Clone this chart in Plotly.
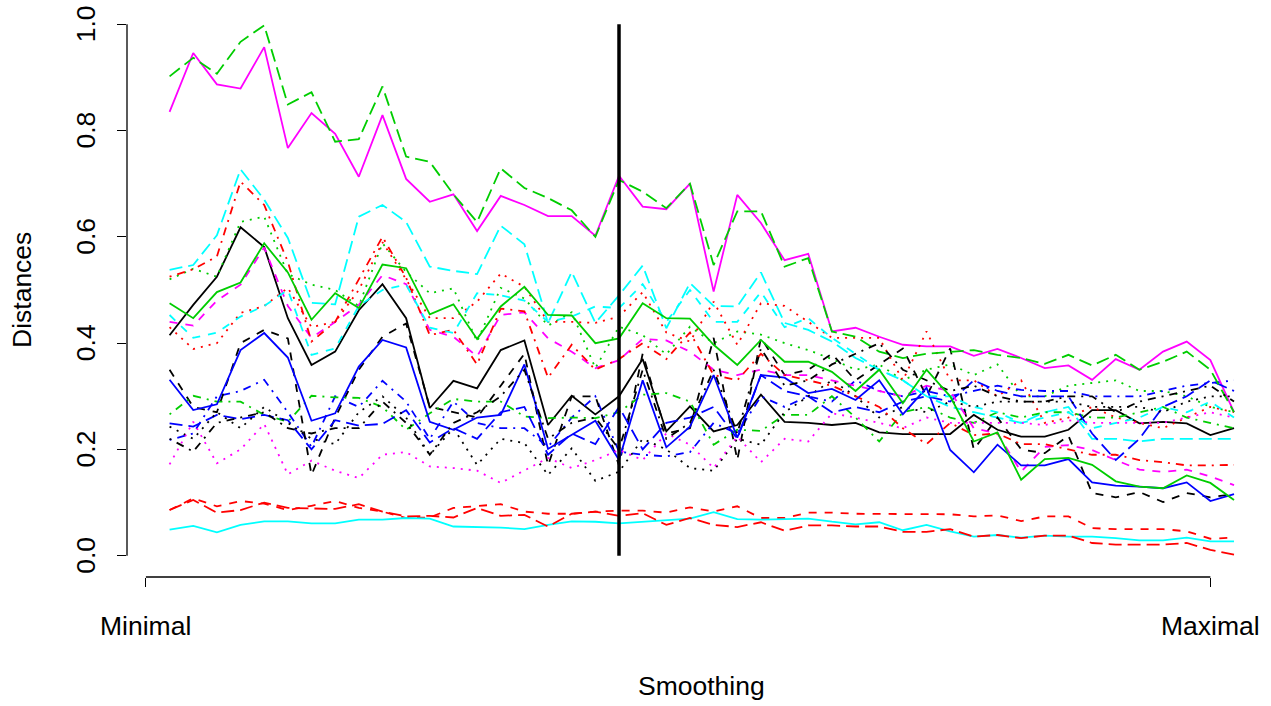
import plotly.graph_objects as go

# ---------------- data ----------------
X_POS = list(range(1, 47))          # 46 smoothing levels
SPLIT_X = 20                        # vertical marker position
TICK_POS = [0, 45]
TICK_LABELS = ["Minimal", "Maximal"]
Y_TICKS = [0.0, 0.2, 0.4, 0.6, 0.8, 1.0]
Y_TICK_LABELS = ["0.0", "0.2", "0.4", "0.6", "0.8", "1.0"]

s01_black_solid = [0.415,0.472,0.525,0.618,0.581,0.447,0.359,0.384,0.462,0.511,0.447,0.278,0.329,0.315,0.387,0.405,0.246,0.301,0.266,0.30,0.37,0.234,0.281,0.234,0.246,0.303,0.252,0.25,0.246,0.25,0.232,0.229,0.229,0.229,0.265,0.237,0.224,0.224,0.237,0.274,0.274,0.249,0.252,0.249,0.227,0.240]
s02_red_dashed = [0.086,0.108,0.093,0.103,0.098,0.086,0.094,0.103,0.090,0.083,0.071,0.072,0.090,0.093,0.097,0.083,0.079,0.079,0.083,0.085,0.085,0.081,0.091,0.083,0.093,0.071,0.071,0.081,0.081,0.079,0.079,0.078,0.078,0.078,0.074,0.076,0.065,0.074,0.074,0.052,0.050,0.050,0.050,0.046,0.032,0.034]
s03_green_dotted = [0.52,0.54,0.525,0.628,0.638,0.53,0.51,0.50,0.47,0.588,0.534,0.494,0.503,0.403,0.504,0.484,0.433,0.458,0.353,0.431,0.415,0.379,0.431,0.40,0.422,0.416,0.40,0.387,0.37,0.35,0.36,0.33,0.35,0.36,0.34,0.36,0.30,0.30,0.32,0.325,0.33,0.31,0.31,0.30,0.28,0.27]
s04_blue_dotdash = [0.218,0.23,0.30,0.31,0.331,0.27,0.205,0.30,0.28,0.329,0.29,0.22,0.29,0.25,0.24,0.24,0.205,0.26,0.30,0.196,0.19,0.187,0.195,0.25,0.23,0.30,0.28,0.30,0.29,0.33,0.31,0.30,0.31,0.30,0.31,0.32,0.312,0.31,0.31,0.30,0.30,0.30,0.31,0.32,0.325,0.33]
s05_cyan_longdash = [0.538,0.547,0.603,0.727,0.67,0.598,0.476,0.473,0.638,0.660,0.628,0.544,0.536,0.530,0.621,0.586,0.438,0.534,0.438,0.49,0.546,0.428,0.513,0.47,0.469,0.533,0.438,0.425,0.403,0.372,0.35,0.33,0.30,0.28,0.27,0.26,0.25,0.27,0.28,0.22,0.22,0.215,0.22,0.22,0.22,0.22]
s06_magenta_solid = [0.835,0.946,0.887,0.879,0.957,0.767,0.833,0.794,0.713,0.829,0.709,0.666,0.68,0.611,0.677,0.66,0.639,0.639,0.602,0.715,0.657,0.652,0.70,0.497,0.679,0.626,0.556,0.568,0.422,0.429,0.412,0.397,0.394,0.394,0.376,0.389,0.372,0.353,0.358,0.331,0.370,0.350,0.384,0.403,0.368,0.27]
s07_black_dashed = [0.35,0.28,0.27,0.40,0.425,0.409,0.152,0.26,0.35,0.412,0.437,0.28,0.27,0.26,0.32,0.38,0.17,0.30,0.30,0.17,0.38,0.23,0.24,0.41,0.18,0.41,0.34,0.35,0.38,0.33,0.36,0.39,0.30,0.39,0.20,0.26,0.20,0.193,0.226,0.118,0.110,0.12,0.101,0.118,0.11,0.116]
s08_red_dotted = [0.43,0.389,0.40,0.457,0.47,0.504,0.43,0.44,0.50,0.59,0.52,0.447,0.447,0.478,0.531,0.506,0.44,0.44,0.438,0.45,0.496,0.42,0.403,0.478,0.397,0.475,0.47,0.44,0.41,0.41,0.41,0.33,0.422,0.33,0.33,0.30,0.33,0.25,0.26,0.28,0.26,0.25,0.24,0.26,0.28,0.27]
s09_green_dotdash = [0.266,0.301,0.29,0.29,0.265,0.252,0.301,0.298,0.297,0.28,0.237,0.268,0.295,0.29,0.29,0.262,0.259,0.26,0.259,0.27,0.303,0.306,0.29,0.209,0.237,0.235,0.265,0.265,0.30,0.26,0.215,0.27,0.28,0.26,0.25,0.27,0.26,0.27,0.27,0.26,0.26,0.27,0.28,0.26,0.25,0.24]
s10_blue_longdash = [0.249,0.243,0.265,0.257,0.265,0.255,0.20,0.255,0.245,0.248,0.274,0.213,0.24,0.22,0.27,0.28,0.19,0.23,0.21,0.28,0.20,0.25,0.26,0.28,0.22,0.34,0.31,0.30,0.27,0.28,0.27,0.29,0.30,0.29,0.33,0.31,0.30,0.30,0.30,0.23,0.18,0.22,0.28,0.30,0.33,0.31]
s11_cyan_solid = [0.049,0.056,0.044,0.058,0.0645,0.0645,0.061,0.061,0.068,0.068,0.071,0.070,0.055,0.054,0.053,0.050,0.058,0.0645,0.064,0.061,0.064,0.068,0.070,0.082,0.069,0.068,0.069,0.070,0.064,0.059,0.063,0.048,0.058,0.046,0.036,0.039,0.034,0.038,0.036,0.036,0.033,0.029,0.029,0.034,0.027,0.027]
s12_magenta_dashed = [0.440,0.433,0.48,0.51,0.58,0.47,0.41,0.44,0.472,0.528,0.511,0.425,0.412,0.375,0.453,0.458,0.409,0.384,0.353,0.368,0.408,0.405,0.384,0.35,0.34,0.35,0.34,0.34,0.33,0.32,0.31,0.30,0.32,0.31,0.24,0.23,0.158,0.205,0.208,0.199,0.180,0.162,0.158,0.162,0.149,0.133]
s13_black_dotted = [0.243,0.22,0.27,0.24,0.28,0.25,0.22,0.21,0.27,0.30,0.26,0.19,0.24,0.171,0.22,0.212,0.152,0.202,0.141,0.158,0.22,0.20,0.165,0.16,0.22,0.209,0.27,0.30,0.33,0.30,0.26,0.28,0.27,0.29,0.28,0.29,0.29,0.29,0.29,0.28,0.28,0.28,0.27,0.29,0.30,0.30]
s14_red_dotdash = [0.525,0.539,0.563,0.704,0.66,0.553,0.403,0.44,0.52,0.600,0.523,0.415,0.425,0.36,0.465,0.46,0.335,0.397,0.35,0.37,0.40,0.37,0.42,0.34,0.33,0.38,0.34,0.33,0.32,0.30,0.28,0.24,0.21,0.25,0.227,0.23,0.21,0.21,0.20,0.19,0.19,0.18,0.176,0.17,0.17,0.171]
s15_green_longdash = [0.902,0.937,0.907,0.967,0.998,0.849,0.872,0.779,0.784,0.883,0.751,0.741,0.68,0.628,0.729,0.692,0.673,0.650,0.600,0.707,0.685,0.654,0.70,0.547,0.648,0.648,0.544,0.560,0.422,0.412,0.384,0.372,0.380,0.384,0.387,0.378,0.372,0.361,0.378,0.358,0.378,0.350,0.365,0.384,0.350,0.27]
s16_blue_solid = [0.331,0.274,0.285,0.387,0.419,0.373,0.254,0.268,0.356,0.406,0.392,0.252,0.237,0.26,0.265,0.36,0.201,0.227,0.254,0.180,0.33,0.204,0.243,0.34,0.222,0.34,0.335,0.306,0.314,0.293,0.33,0.266,0.316,0.199,0.157,0.209,0.170,0.170,0.182,0.138,0.132,0.130,0.127,0.138,0.103,0.116]
s17_cyan_dashed = [0.453,0.41,0.42,0.45,0.47,0.50,0.378,0.39,0.47,0.50,0.51,0.429,0.419,0.494,0.49,0.48,0.44,0.45,0.469,0.466,0.511,0.44,0.50,0.44,0.44,0.496,0.43,0.447,0.41,0.38,0.35,0.33,0.30,0.30,0.28,0.27,0.25,0.26,0.27,0.24,0.25,0.26,0.28,0.27,0.29,0.26]
s18_magenta_dotted = [0.172,0.252,0.174,0.20,0.248,0.153,0.179,0.16,0.146,0.19,0.195,0.168,0.165,0.16,0.137,0.16,0.184,0.165,0.18,0.199,0.18,0.23,0.209,0.165,0.224,0.176,0.22,0.215,0.268,0.26,0.25,0.24,0.26,0.25,0.25,0.25,0.25,0.246,0.255,0.25,0.25,0.25,0.25,0.26,0.27,0.26]
s19_black_dotdash = [0.22,0.196,0.25,0.26,0.27,0.24,0.23,0.24,0.24,0.29,0.25,0.19,0.25,0.27,0.30,0.35,0.22,0.25,0.26,0.20,0.35,0.22,0.25,0.35,0.23,0.39,0.32,0.33,0.36,0.38,0.40,0.35,0.33,0.31,0.32,0.30,0.29,0.29,0.30,0.30,0.27,0.29,0.30,0.31,0.32,0.29]
s20_red_longdash = [0.086,0.105,0.081,0.086,0.10,0.090,0.089,0.088,0.097,0.083,0.074,0.075,0.072,0.090,0.075,0.077,0.055,0.079,0.083,0.075,0.080,0.058,0.071,0.058,0.054,0.063,0.047,0.057,0.057,0.055,0.055,0.045,0.045,0.050,0.036,0.039,0.033,0.038,0.038,0.024,0.021,0.021,0.021,0.024,0.011,0.002]
s21_green_solid = [0.475,0.447,0.496,0.514,0.588,0.533,0.444,0.494,0.466,0.548,0.541,0.454,0.473,0.408,0.469,0.506,0.453,0.452,0.400,0.409,0.475,0.447,0.446,0.397,0.359,0.406,0.365,0.365,0.346,0.31,0.35,0.287,0.35,0.30,0.215,0.232,0.143,0.182,0.184,0.171,0.140,0.130,0.127,0.151,0.137,0.105]

SERIES = [s01_black_solid, s02_red_dashed, s03_green_dotted, s04_blue_dotdash,
          s05_cyan_longdash, s06_magenta_solid, s07_black_dashed, s08_red_dotted,
          s09_green_dotdash, s10_blue_longdash, s11_cyan_solid, s12_magenta_dashed,
          s13_black_dotted, s14_red_dotdash, s15_green_longdash, s16_blue_solid,
          s17_cyan_dashed, s18_magenta_dotted, s19_black_dotdash, s20_red_longdash,
          s21_green_solid]

# ---------------- styles (R classic palette / lty cycling) ----------------
PALETTE = ["#000000", "#FF0000", "#00CD00", "#0000FF", "#00FFFF", "#FF00FF"]
DASHES = ["solid", "8px,8px", "2px,6px", "2px,6px,8px,6px", "13px,6px"]
FONT = "Liberation Sans, Arial, sans-serif"
FS = 26.5

W, H = 1271, 706
ML, MR, MT, MB = 127, 0, 3, 129
PW, PH = W - ML - MR, H - MT - MB

fig = go.Figure()
for k, vals in enumerate(SERIES):
    fig.add_trace(go.Scatter(
        x=X_POS, y=vals, mode="lines",
        line=dict(color=PALETTE[k % 6], width=1.8, dash=DASHES[k % 5]),
        showlegend=False, hoverinfo="skip"))

xmin = X_POS[0] - 0.04 * (X_POS[-1] - X_POS[0])
xspan_units = (X_POS[-1] - X_POS[0]) * 1.08
px_per_unit = (1276.6 - ML) / xspan_units
xmax = xmin + PW / px_per_unit

shapes = [
    dict(type="line", xref="x", yref="y", x0=SPLIT_X, x1=SPLIT_X, y0=0, y1=1,
         line=dict(color="black", width=3.5)),
    dict(type="line", xref="x", yref="paper", x0=TICK_POS[0], x1=TICK_POS[1], y0=0, y1=0,
         line=dict(color="black", width=1.3)),
    dict(type="line", xref="paper", yref="y", x0=0, x1=0, y0=Y_TICKS[0], y1=Y_TICKS[-1],
         line=dict(color="black", width=1.3)),
]

def py(pix):
    return (H - MB - pix) / PH

def px(pix):
    return (pix - ML) / PW

ann = []
for v, t in zip(TICK_POS, TICK_LABELS):
    ann.append(dict(x=v, y=py(626), xref="x", yref="paper", text=t, showarrow=False,
                    xanchor="center", yanchor="middle", font=dict(size=FS, color="black", family=FONT)))
for v, t in zip(Y_TICKS, Y_TICK_LABELS):
    ann.append(dict(x=px(86), y=v, xref="paper", yref="y", text=t, showarrow=False, textangle=-90,
                    xanchor="center", yanchor="middle", font=dict(size=FS, color="black", family=FONT)))
ann.append(dict(x=px(701), y=py(686), xref="paper", yref="paper", text="Smoothing", showarrow=False,
                xanchor="center", yanchor="middle", font=dict(size=FS, color="black", family=FONT)))
ann.append(dict(x=px(22), y=py(290), xref="paper", yref="paper", text="Distances", showarrow=False,
                textangle=-90, xanchor="center", yanchor="middle", font=dict(size=FS, color="black", family=FONT)))

fig.update_layout(
    width=W, height=H, margin=dict(l=ML, r=MR, t=MT, b=MB),
    plot_bgcolor="white", paper_bgcolor="white",
    xaxis=dict(range=[xmin, xmax], showgrid=False, zeroline=False, showline=False,
               tickvals=TICK_POS, showticklabels=False, ticks="outside", ticklen=9,
               tickwidth=1.3, tickcolor="black", fixedrange=True),
    yaxis=dict(range=[-0.04, 1.04], showgrid=False, zeroline=False, showline=False,
               tickvals=Y_TICKS, showticklabels=False, ticks="outside", ticklen=9,
               tickwidth=1.3, tickcolor="black", fixedrange=True),
    shapes=shapes, annotations=ann,
)

fig.write_html("out.html", config={"displayModeBar": False},
               post_script="document.body.style.margin='0';document.body.style.overflow='hidden';")
